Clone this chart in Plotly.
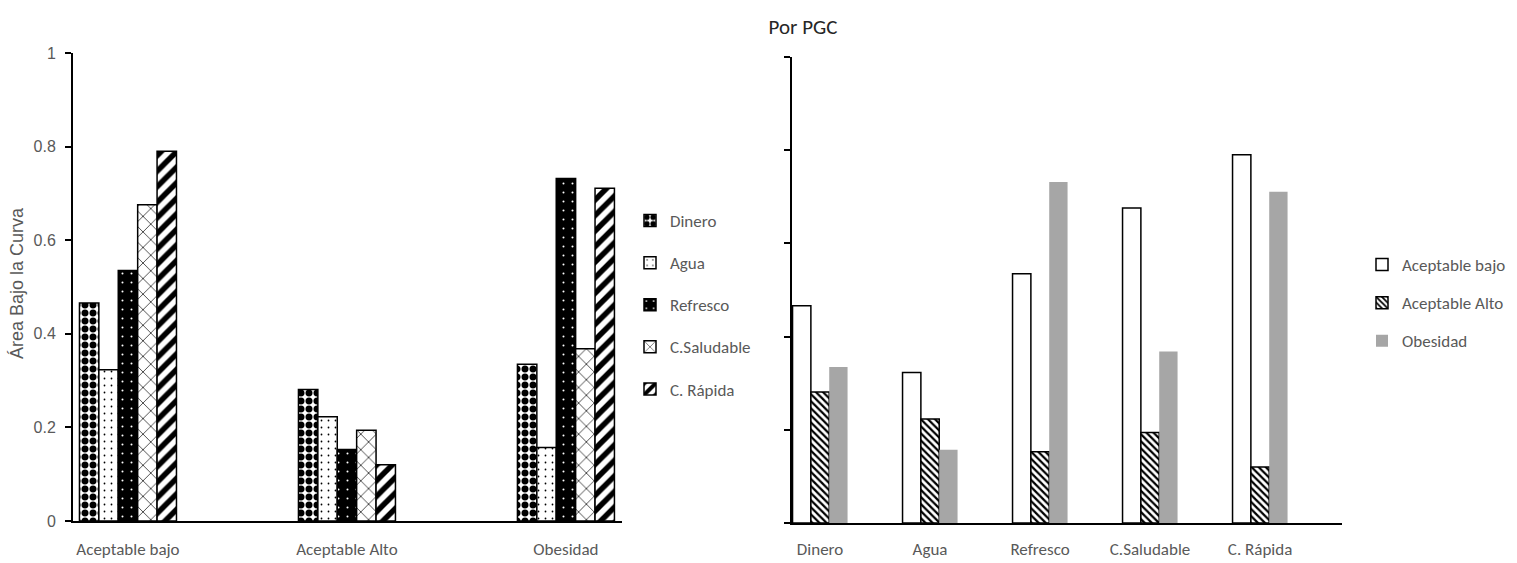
import plotly.graph_objects as go

# ---- data ----
groups = ["Aceptable bajo", "Aceptable Alto", "Obesidad"]
items = ["Dinero", "Agua", "Refresco", "C.Saludable", "C. Rápida"]
dinero = [0.466, 0.281, 0.335]
agua = [0.323, 0.223, 0.157]
refresco = [0.535, 0.153, 0.732]
saludable = [0.676, 0.194, 0.368]
rapida = [0.790, 0.120, 0.711]
left_series = [dinero, agua, refresco, saludable, rapida]
# right chart: same values, transposed (series = groups, categories = items)
right_series = [[s[g] for s in left_series] for g in range(len(groups))]

y_ticks = [0, 0.2, 0.4, 0.6, 0.8, 1]

W, H = 1517, 563
GRAY = "#595959"
TICKFONT = dict(family="Liberation Sans, Arial", size=16, color=GRAY)
NARROW = "Carlito, Liberation Sans Narrow, Noto Sans"
CATFONT = dict(family=NARROW, size=17, color=GRAY)

left_styles = [
    dict(color="white", pattern=dict(shape=".", fgcolor="black", size=8, solidity=0.6, fgopacity=1)),
    dict(color="white", pattern=dict(shape=".", fgcolor="black", size=7, solidity=0.05, fgopacity=1)),
    dict(color="black", pattern=dict(shape=".", fgcolor="white", size=9, solidity=0.04, fgopacity=1)),
    dict(color="white", pattern=dict(shape="x", fgcolor="black", size=11, solidity=0.12, fgopacity=1)),
    dict(color="white", pattern=dict(shape="/", fgcolor="black", size=11, solidity=0.5, fgopacity=1)),
]
right_styles = [
    dict(color="white", line=dict(color="black", width=1.5)),
    dict(color="white", line=dict(color="black", width=1.5),
         pattern=dict(shape="\\", fgcolor="black", size=5, solidity=0.45, fgopacity=1)),
    dict(color="#A6A6A6", line=dict(color="#A6A6A6", width=0)),
]

fig = go.Figure()

wl = 0.0886
for i, (name, vals) in enumerate(zip(items, left_series)):
    st = left_styles[i]
    fig.add_trace(go.Bar(
        x=groups, y=vals, name=name, xaxis="x", yaxis="y",
        width=wl, offset=-2.5 * wl + i * wl,
        marker=dict(color=st["color"], pattern=st["pattern"],
                    line=dict(color="black", width=1.5)),
        legend="legend", legendgroup="l%d" % i,
    ))

wr = 0.1667
for i, (name, vals) in enumerate(zip(groups, right_series)):
    st = right_styles[i]
    m = dict(color=st["color"], line=st["line"])
    if "pattern" in st:
        m["pattern"] = st["pattern"]
    fig.add_trace(go.Bar(
        x=items, y=vals, name=name, xaxis="x2", yaxis="y2",
        width=wr, offset=-1.5 * wr + i * wr,
        marker=m,
        legend="legend2", legendgroup="r%d" % i,
    ))

axis_common = dict(showline=True, linecolor="black", linewidth=2,
                   showgrid=False, zeroline=False, automargin=False)

fig.update_layout(
    width=W, height=H,
    margin=dict(l=0, r=0, t=0, b=0, autoexpand=False),
    paper_bgcolor="white", plot_bgcolor="white",
    barmode="overlay",
    title=dict(text="Por PGC", x=803 / W, y=1 - 27 / H, xanchor="center", yanchor="middle",
               font=dict(family=NARROW, size=21, color="#262626")),
    xaxis=dict(domain=[73 / W, 622 / W], range=[-0.251, 2.256], type="category",
               ticks="", tickfont=CATFONT, ticklabelstandoff=12, anchor="y", **axis_common),
    yaxis=dict(domain=[(H - 521) / H, (H - 53) / H], range=[0, 1], tickvals=y_ticks,
               ticks="outside", ticklen=6, tickwidth=2, tickcolor="black",
               tickfont=TICKFONT, ticklabelstandoff=6, anchor="x", **axis_common),
    xaxis2=dict(domain=[792 / W, 1342 / W], range=[-0.255, 4.745], type="category",
                ticks="", tickfont=CATFONT, ticklabelstandoff=10, anchor="y2", **axis_common),
    yaxis2=dict(domain=[(H - 523) / H, (H - 57) / H], range=[0, 1], tickvals=y_ticks,
                ticks="outside", ticklen=6, tickwidth=2, tickcolor="black",
                showticklabels=False, anchor="x2", **axis_common),
    legend=dict(x=630 / W, y=1 - 203 / H, xanchor="left", yanchor="top",
                font=dict(family=NARROW, size=17, color=GRAY),
                traceorder="grouped", tracegroupgap=17, bgcolor="rgba(0,0,0,0)",
                itemwidth=30),
    legend2=dict(x=1362 / W, y=1 - 247 / H, xanchor="left", yanchor="top",
                 font=dict(family=NARROW, size=17, color=GRAY),
                 traceorder="grouped", tracegroupgap=13, bgcolor="rgba(0,0,0,0)",
                 itemwidth=30),
    annotations=[dict(text="Área Bajo la Curva", textangle=-90, x=17 / W, y=(H - 283) / H,
                      xref="paper", yref="paper", xanchor="center", yanchor="middle",
                      showarrow=False,
                      font=dict(family="Liberation Sans, Arial", size=18, color=GRAY))],
)

fig.write_html("out.html")
